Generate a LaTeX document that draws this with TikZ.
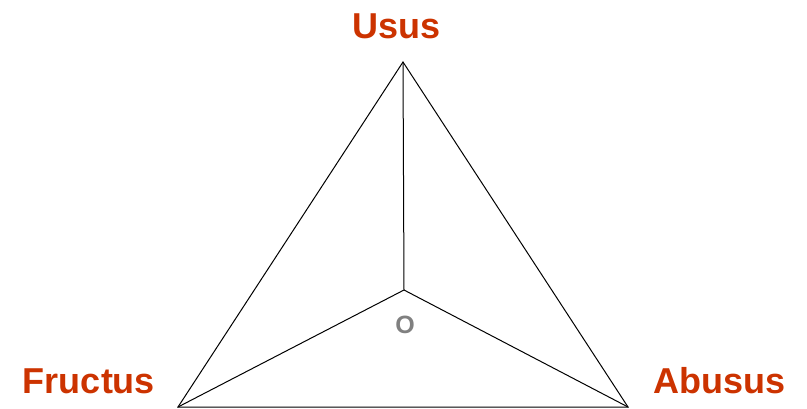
\documentclass[tikz,border=0pt]{standalone}
\usepackage{fontspec}
\setmainfont{Liberation Sans}
\definecolor{lblred}{HTML}{CC3300}
\definecolor{ogray}{HTML}{808080}
\begin{document}
\begin{tikzpicture}[x=1pt,y=-1pt,
  lbl/.style={anchor=base,inner sep=0pt,text=lblred,font=\fontsize{36}{40}\selectfont\bfseries},
  olbl/.style={anchor=base,inner sep=0pt,text=ogray,font=\bfseries\fontsize{25}{30}\selectfont},
  edge/.style={draw=black,line width=1pt,line join=miter}]
\useasboundingbox (0,0) rectangle (807,408);
\coordinate (T) at (403,62);
\coordinate (L) at (178,407);
\coordinate (R) at (628,407);
\coordinate (C) at (404,290);
\draw[edge] (T) -- (L) -- (R) -- cycle;
\draw[edge] (C) -- (T);
\draw[edge] (C) -- (L);
\draw[edge] (C) -- (R);
\node[lbl] (usus) at (396.5,38) {Usus};
\node[lbl] (fructus) at (89,393) {Fructus};
\node[lbl] (abusus) at (720,393) {Abusus};
\node[olbl] (o) at (405,333) {O};
\end{tikzpicture}
\end{document}
